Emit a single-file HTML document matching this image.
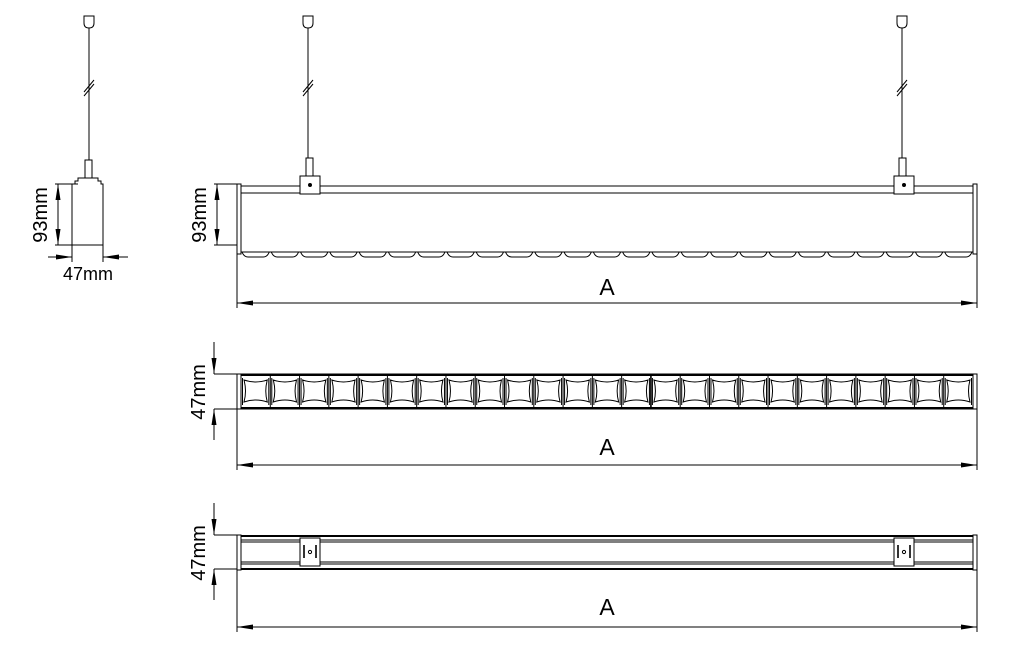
<!DOCTYPE html>
<html><head><meta charset="utf-8"><style>
html,body{margin:0;padding:0;background:#fff;}
svg{display:block;}
text{font-family:"Liberation Sans",sans-serif;fill:#000;}
</style></head><body>
<svg id="s" width="1017" height="657" viewBox="0 0 1017 657" xmlns="http://www.w3.org/2000/svg" stroke="#000" fill="none" stroke-width="1">
<defs>
<marker id="a" markerWidth="16" markerHeight="6" refX="16" refY="3" orient="auto" markerUnits="userSpaceOnUse"><path d="M0,0.5 L16,3 L0,5.5z" fill="#000" stroke="none"/></marker>
<marker id="b" markerWidth="16" markerHeight="6" refX="0" refY="3" orient="auto" markerUnits="userSpaceOnUse"><path d="M16,0.5 L0,3 L16,5.5z" fill="#000" stroke="none"/></marker>
</defs>
<!-- side view -->
<path d="M84,16 h10 v7 q0,5 -5,5 q-5,0 -5,-5z"/>
<line x1="89" y1="28" x2="89" y2="160"/>
<path d="M84,92 l10,-12 M84,96 l10,-12"/>
<rect x="85" y="160" width="7" height="18"/>
<path d="M72,245 V184 h3 v-3 h3 v-3 h20 v3 h3 v3 h2 V245"/>
<line x1="55" y1="184" x2="78" y2="184"/>
<line x1="55" y1="245" x2="103" y2="245"/>
<line x1="58" y1="184" x2="58" y2="245" marker-start="url(#b)" marker-end="url(#a)"/>
<line x1="72" y1="245" x2="72" y2="262"/><line x1="103" y1="245" x2="103" y2="262"/>
<line x1="48" y1="257" x2="72" y2="257" marker-end="url(#a)"/>
<line x1="128" y1="257" x2="103" y2="257" marker-end="url(#a)"/>
<text x="47" y="215" font-size="20" transform="rotate(-90 47 215)" text-anchor="middle" stroke="none">93mm</text>
<text x="88" y="280" font-size="18" text-anchor="middle" stroke="none">47mm</text>

<!-- front view -->
<path d="M303,16 h10 v7 q0,5 -5,5 q-5,0 -5,-5z"/>
<line x1="308" y1="28" x2="308" y2="158"/>
<path d="M303,92 l10,-12 M303,96 l10,-12"/>
<rect x="306" y="158" width="7" height="18"/>
<rect x="300" y="176" width="20" height="18" fill="#fff"/>
<circle cx="310" cy="185" r="1.5" fill="#000"/>
<path d="M897,16 h10 v7 q0,5 -5,5 q-5,0 -5,-5z"/>
<line x1="902" y1="28" x2="902" y2="158"/>
<path d="M897,92 l10,-12 M897,96 l10,-12"/>
<rect x="899" y="158" width="7" height="18"/>
<rect x="894" y="176" width="20" height="18" fill="#fff"/>
<circle cx="904" cy="185" r="1.5" fill="#000"/>
<line x1="241" y1="186" x2="300" y2="186"/><line x1="320" y1="186" x2="894" y2="186"/><line x1="914" y1="186" x2="973" y2="186"/>
<line x1="241" y1="193" x2="300" y2="193"/><line x1="320" y1="193" x2="894" y2="193"/><line x1="914" y1="193" x2="973" y2="193"/>
<rect x="237" y="184" width="4" height="70"/>
<rect x="973" y="184" width="4" height="70"/>
<line x1="241" y1="252" x2="973" y2="252"/>
<g id="scal"></g>
<line x1="214" y1="184" x2="237" y2="184"/>
<line x1="214" y1="245" x2="237" y2="245"/>
<line x1="217" y1="184" x2="217" y2="245" marker-start="url(#b)" marker-end="url(#a)"/>
<text x="206" y="215" font-size="20" transform="rotate(-90 206 215)" text-anchor="middle" stroke="none">93mm</text>
<line x1="237" y1="254" x2="237" y2="308"/><line x1="977" y1="254" x2="977" y2="308"/>
<line x1="237" y1="303" x2="977" y2="303" marker-start="url(#b)" marker-end="url(#a)"/>
<text x="607" y="295" font-size="23" text-anchor="middle" stroke="none">A</text>

<!-- top view -->
<rect x="237" y="374" width="4" height="35"/>
<rect x="973" y="374" width="4" height="35"/>
<rect x="241" y="374" width="732" height="35"/>
<line x1="241" y1="375" x2="973" y2="375" stroke-width="2"/>
<line x1="241" y1="408" x2="973" y2="408" stroke-width="2"/>
<g id="cells"></g>
<line x1="214" y1="374" x2="237" y2="374"/><line x1="214" y1="409" x2="237" y2="409"/>
<line x1="214" y1="342" x2="214" y2="374" marker-end="url(#a)"/>
<line x1="214" y1="440" x2="214" y2="409" marker-end="url(#a)"/>
<text x="205" y="392" font-size="20" transform="rotate(-90 205 392)" text-anchor="middle" stroke="none">47mm</text>
<line x1="237" y1="409" x2="237" y2="470"/><line x1="977" y1="409" x2="977" y2="470"/>
<line x1="237" y1="465" x2="977" y2="465" marker-start="url(#b)" marker-end="url(#a)"/>
<text x="607" y="455" font-size="23" text-anchor="middle" stroke="none">A</text>

<!-- bottom/back view -->
<rect x="237" y="535" width="4" height="35"/>
<rect x="973" y="535" width="4" height="35"/>
<line x1="241" y1="536" x2="973" y2="536" stroke-width="2"/>
<line x1="241" y1="540" x2="973" y2="540"/>
<line x1="241" y1="542" x2="973" y2="542"/>
<line x1="241" y1="562" x2="973" y2="562"/>
<line x1="241" y1="564" x2="973" y2="564"/>
<line x1="241" y1="569" x2="973" y2="569" stroke-width="2"/>
<rect x="300" y="538" width="20" height="28" fill="#fff"/>
<line x1="304" y1="545" x2="304" y2="558" stroke-width="1.6"/><line x1="316" y1="545" x2="316" y2="558" stroke-width="1.6"/>
<circle cx="310" cy="552" r="1.6"/>
<rect x="894" y="538" width="20" height="28" fill="#fff"/>
<line x1="898" y1="545" x2="898" y2="558" stroke-width="1.6"/><line x1="910" y1="545" x2="910" y2="558" stroke-width="1.6"/>
<circle cx="904" cy="552" r="1.6"/>
<line x1="214" y1="535" x2="237" y2="535"/><line x1="214" y1="569" x2="237" y2="569"/>
<line x1="214" y1="503" x2="214" y2="535" marker-end="url(#a)"/>
<line x1="214" y1="600" x2="214" y2="569" marker-end="url(#a)"/>
<text x="205" y="553" font-size="20" transform="rotate(-90 205 553)" text-anchor="middle" stroke="none">47mm</text>
<line x1="237" y1="570" x2="237" y2="632"/><line x1="977" y1="570" x2="977" y2="632"/>
<line x1="237" y1="627" x2="977" y2="627" marker-start="url(#b)" marker-end="url(#a)"/>
<text x="607" y="615" font-size="23" text-anchor="middle" stroke="none">A</text>
</svg>
<script>
var NS="http://www.w3.org/2000/svg";
var sc=document.getElementById("scal"),ce=document.getElementById("cells");
var x0=241,w=(973-241)/25;
function L(x1,y1,x2,y2,sw){var l=document.createElementNS(NS,"line");l.setAttribute("x1",x1);l.setAttribute("x2",x2);l.setAttribute("y1",y1);l.setAttribute("y2",y2);if(sw)l.setAttribute("stroke-width",sw);ce.appendChild(l);}
for(var i=0;i<25;i++){
 var x=x0+i*w;
 var p=document.createElementNS(NS,"path");
 p.setAttribute("d","M"+(x+1)+",252 q2,5 6,5 h"+(w-14)+" q4,0 6,-5");
 sc.appendChild(p);
 if(i>0)L(x,376,x,407,i==14?1.6:1);
 var a=x+3,b=x+w-3,m=w-6;
 var c=document.createElementNS(NS,"path");
 c.setAttribute("d","M"+a+",380 Q"+(a+m/2)+",384 "+b+",380 Q"+(b-3)+",391 "+b+",402 Q"+(a+m/2)+",398 "+a+",402 Q"+(a+3)+",391 "+a+",380z");
 ce.appendChild(c);
 L(x+1.5,378,x+1.5,405);L(x+w-1.5,378,x+w-1.5,405);
}
</script>
</body></html>
